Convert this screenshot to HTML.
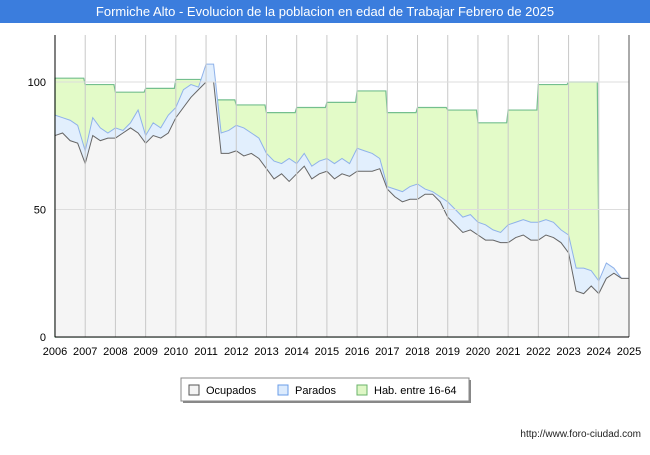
<!DOCTYPE html>
<html><head><meta charset="utf-8"><style>
body{margin:0;width:650px;height:450px;overflow:hidden;background:#fff;font-family:"Liberation Sans",sans-serif}
</style></head><body>
<svg width="650" height="450" xmlns="http://www.w3.org/2000/svg" font-family="Liberation Sans, sans-serif">
<rect x="0" y="0" width="650" height="23" fill="#3b7ddd"/>
<text x="325" y="16" text-anchor="middle" font-size="13" fill="#fff">Formiche Alto - Evolucion de la poblacion en edad de Trabajar Febrero de 2025</text>
<g id="areas"></g>
<g id="grid"></g>
<g id="axes"></g>
<g>
<rect x="183" y="380" width="288" height="23" fill="#888"/>
<rect x="181" y="378" width="288" height="23" fill="#fff" stroke="#888"/>
<rect x="189" y="385" width="10" height="10" fill="#f4f4f4" stroke="#555"/>
<text x="206" y="394" font-size="11">Ocupados</text>
<rect x="278" y="385" width="10" height="10" fill="#dcebfd" stroke="#6a9ce8"/>
<text x="295" y="394" font-size="11">Parados</text>
<rect x="357" y="385" width="10" height="10" fill="#dff7c6" stroke="#6ab36a"/>
<text x="374" y="394" font-size="11">Hab. entre 16-64</text>
</g>
<text x="641" y="437" text-anchor="end" font-size="10" fill="#222">http://www.foro-ciudad.com</text>
</svg>
<script>
const years=[2006,2007,2008,2009,2010,2011,2012,2013,2014,2015,2016,2017,2018,2019,2020,2021,2022,2023,2024,2025];
const habValues=[101.5,99,96,97.5,101,93,91,88,90,92,96.5,88,90,89,84,89,99,100];
const ocupados=[79,80,77,76,68,79,77,78,78,80,82,80,76,79,78,80,86,90,94,97,100,100,72,72,73,71,72,70,66,62,64,61,64,67,62,64,65,62,64,63,65,65,65,66,58,55,53,54,54,56,56,53,47,44,41,42,40,38,38,37,37,39,40,38,38,40,39,37,33,18,17,20,17,23,25,23,23];
const parados=[8,6,8,7,5,7,5,2,4,1,2,9,3,5,4,7,4,7,5,1,7,7,8,9,10,11,8,8,6,7,4,9,4,5,5,5,5,6,6,5,9,8,7,4,1,3,4,5,6,2,1,2,6,6,6,6,5,6,4,4,7,6,6,7,7,6,6,5,7,9,10,6,5,6,2,0,0];
const yTicks=[0,50,100];
const NS="http://www.w3.org/2000/svg";
const X0=55,X1=629,Y0=337;
const xs=y=>X0+(y-2006)*(X1-X0)/19;
const ys=v=>Y0-v*2.55;
function mk(tag,attrs,parent,name,inter){const e=document.createElementNS(NS,tag);for(const k in attrs)e.setAttribute(k,attrs[k]);


document.getElementById(parent).appendChild(e);return e;}
// hab
let hp=`M${xs(2006)},${Y0}`;
habValues.forEach((v,i)=>{hp+=` L${xs(2006+i)},${ys(v)} L${xs(2007+i)-1.5},${ys(v)}`;});
const habEnd=2006+habValues.length;
hp+=` L${xs(habEnd)},${ys(37)} L${xs(habEnd)},${Y0} Z`;
mk('path',{d:hp,fill:'#e3fbc8',stroke:'#74bf8e','stroke-width':1.2},'areas','hab-area','false');
const t=i=>2006+i*0.25;
let pp=`M${xs(2006)},${Y0}`,op=`M${xs(2006)},${Y0}`,pl='',ol='';
ocupados.forEach((o,i)=>{const px=xs(t(i));pp+=` L${px},${ys(o+parados[i])}`;op+=` L${px},${ys(o)}`;pl+=(i?' L':'M')+px+','+ys(o+parados[i]);ol+=(i?' L':'M')+px+','+ys(o);});
const lastX=xs(t(ocupados.length-1));
pp+=` L${lastX},${Y0} Z`;op+=` L${lastX},${Y0} Z`;
mk('path',{d:pp,fill:'#e2effd'},'areas','parados-area','false');
mk('path',{d:pl,fill:'none',stroke:'#8fb2ea','stroke-width':1},'areas','parados-line','false');
mk('path',{d:op,fill:'#f5f5f5'},'areas','ocupados-area','false');
mk('path',{d:ol,fill:'none',stroke:'#666','stroke-width':1},'areas','ocupados-line','false');
// grid over areas
years.forEach(y=>{mk('line',{x1:xs(y),x2:xs(y),y1:35,y2:Y0,stroke:'#c8c8c8'},'grid','grid-line-x','false');});
yTicks.forEach(v=>{mk('line',{x1:X0,x2:X1,y1:ys(v),y2:ys(v),stroke:'#ddd'},'grid','grid-line-y','false');});
// axes
mk('line',{x1:X0,x2:X0,y1:35,y2:Y0,stroke:'#000'},'axes','y-axis','false');
mk('line',{x1:X1,x2:X1,y1:35,y2:Y0,stroke:'#555'},'axes','right-border','false');
mk('line',{x1:X0,x2:X1,y1:Y0,y2:Y0,stroke:'#000'},'axes','x-axis','false');
yTicks.forEach(v=>{const e=mk('text',{x:46,y:ys(v)+4,'text-anchor':'end','font-size':11},'axes','y-tick-label','false');e.textContent=v;});
years.forEach(y=>{const e=mk('text',{x:xs(y),y:355,'text-anchor':'middle','font-size':11},'axes','x-tick-label','false');e.textContent=y;});
</script>
</body></html>
